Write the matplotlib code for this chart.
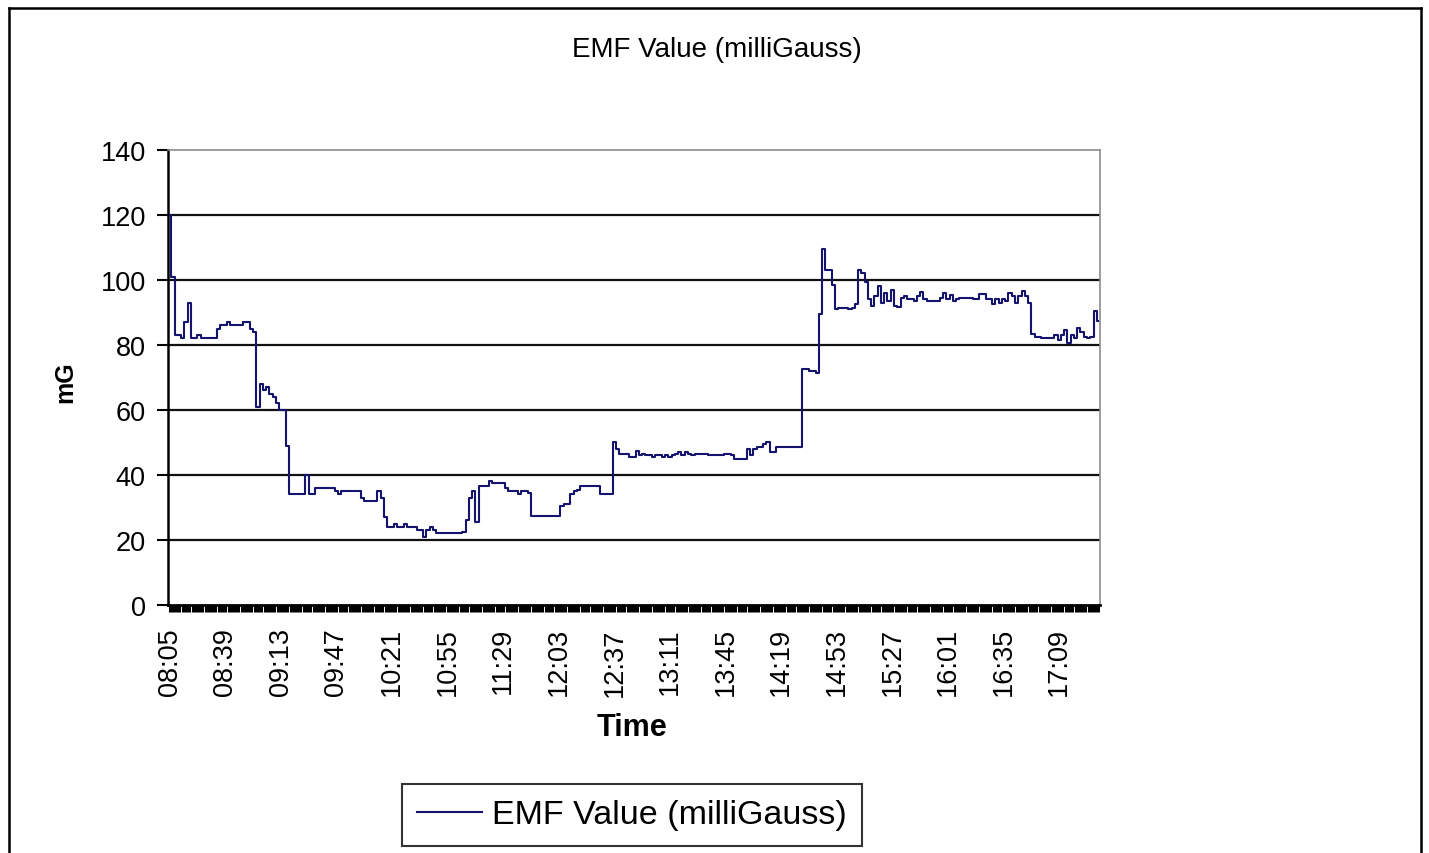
import numpy as np
import pandas as pd
import matplotlib
matplotlib.use('Agg')
import matplotlib.pyplot as plt
from matplotlib.lines import Line2D

plt.rcParams['font.family'] = ['Liberation Sans', 'DejaVu Sans']

# EMF readings (mG), one every 2 minutes from 08:05
emf = [
    120, 101, 83, 83, 82, 87, 93, 82, 82, 83, 82, 82, 82, 82, 82, 85, 86,
    86, 87, 86, 86, 86, 86, 87, 87, 85, 84, 61, 68, 66, 67, 65, 64, 62,
    60, 60, 49, 34, 34, 34, 34, 34, 40, 34, 34, 36, 36, 36, 36, 36, 36,
    35, 34, 35, 35, 35, 35, 35, 35, 33, 32, 32, 32, 32, 35, 33, 27, 24,
    24, 25, 24, 24, 25, 24, 24, 24, 23, 23, 21, 23, 24, 23, 22, 22, 22,
    22, 22, 22, 22, 22, 22.5, 26, 33, 35, 25.5, 36.5, 36.5, 36.5, 38, 37.5, 37.5, 37.5,
    37.5, 36, 35, 35, 35, 34, 35, 35, 34.5, 27.5, 27.5, 27.5, 27.5, 27.5, 27.5, 27.5, 27.5,
    27.5, 30.5, 31, 31, 34, 35, 35.5, 36.5, 36.5, 36.5, 36.5, 36.5, 36.5, 34, 34, 34, 34,
    50, 48, 46.5, 46.5, 46.5, 45.5, 45.5, 47.3, 46, 46.5, 46, 46, 45.5, 46, 46, 45.5, 46,
    45.5, 46, 46.5, 47, 46, 47, 46.5, 46, 46.5, 46.5, 46.5, 46.5, 46, 46, 46, 46, 46,
    46.5, 46.5, 46, 45, 45, 45, 45, 48, 46, 48, 48.5, 48.5, 49.5, 50, 47, 47, 48.5,
    48.5, 48.5, 48.5, 48.5, 48.5, 48.5, 48.5, 72.5, 72.5, 72, 72, 71.5, 89.5, 109.5, 103, 103, 98.5,
    91, 91.5, 91.5, 91.5, 91, 91.5, 92.5, 103, 102, 99.5, 94, 92, 95, 98, 93, 96, 93.5,
    97, 92, 91.7, 94.5, 95, 94, 94, 93.5, 95, 96.3, 94, 93.5, 93.5, 93.5, 93.5, 94.5, 96,
    94, 95.5, 93.5, 94, 94.5, 94.5, 94.5, 94.5, 94, 94, 95.7, 95.7, 94.3, 94.3, 92.5, 94, 93,
    94, 93.5, 96, 95, 93, 95, 96.6, 95, 93, 83.5, 82.5, 82.5, 82, 82, 82, 82, 83,
    81.5, 83, 84.6, 80.5, 83, 82, 85.3, 84, 82.5, 82, 82.5, 90.5, 87.5,
]
times = pd.date_range('08:05', periods=len(emf), freq='2min').strftime('%H:%M')
y_ticks = [0, 20, 40, 60, 80, 100, 120, 140]
label_every = 17

fig = plt.figure(figsize=(14.29, 8.54), dpi=100)
ax = fig.add_axes([0.1176, 0.2904, 0.6522, 0.5328])

x = np.arange(len(emf))
ax.plot(x, emf, color='#14146e', lw=1.5, drawstyle='steps-mid',
        label='EMF Value (milliGauss)', zorder=3)

for y in y_ticks[1:-1]:
    ax.axhline(y, color='#111111', lw=1.6, zorder=1)

ax.set_xlim(-0.5, len(emf) - 0.5)
ax.set_ylim(0, 140)
ax.set_yticks(y_ticks)
ax.set_xticks(x)
ax.set_xticklabels([t if i % label_every == 0 else '' for i, t in enumerate(times)],
                   rotation=90, fontsize=19.5)
ax.tick_params(axis='y', labelsize=19.5, length=8, width=1.5, pad=8)
ax.tick_params(axis='x', length=5, width=2.2, pad=11)

ax.spines['left'].set_linewidth(1.8)
ax.spines['bottom'].set_linewidth(2)
for s in ['top', 'right']:
    ax.spines[s].set_color('#8c8c8c')
    ax.spines[s].set_linewidth(1.2)

fig.text(0.5017, 0.9415, 'EMF Value (milliGauss)', ha='center', va='center', fontsize=20)
fig.text(0.4423, 0.1475, 'Time', ha='center', va='center', fontsize=22, fontweight='bold')
fig.text(0.0455, 0.5527, 'mG', ha='center', va='center', fontsize=18, fontweight='bold',
         rotation=90)

leg = fig.legend(loc='center', bbox_to_anchor=(0.4423, 0.0445), fontsize=24.5,
                 handlelength=1.9, fancybox=False, edgecolor='black',
                 borderpad=0.45, handletextpad=0.3, borderaxespad=0)
leg.get_frame().set_linewidth(1.5)
leg.get_lines()[0].set_drawstyle('default')

# chart area border
for xs, ys in [([0.0063, 0.0063], [0.0, 0.9895]), ([0.0063, 0.9944], [0.9895, 0.9895]),
               ([0.9944, 0.9944], [0.0, 0.9895])]:
    fig.add_artist(Line2D(xs, ys, color='black', lw=1.8, transform=fig.transFigure))

fig.savefig('out.png', dpi=100)
